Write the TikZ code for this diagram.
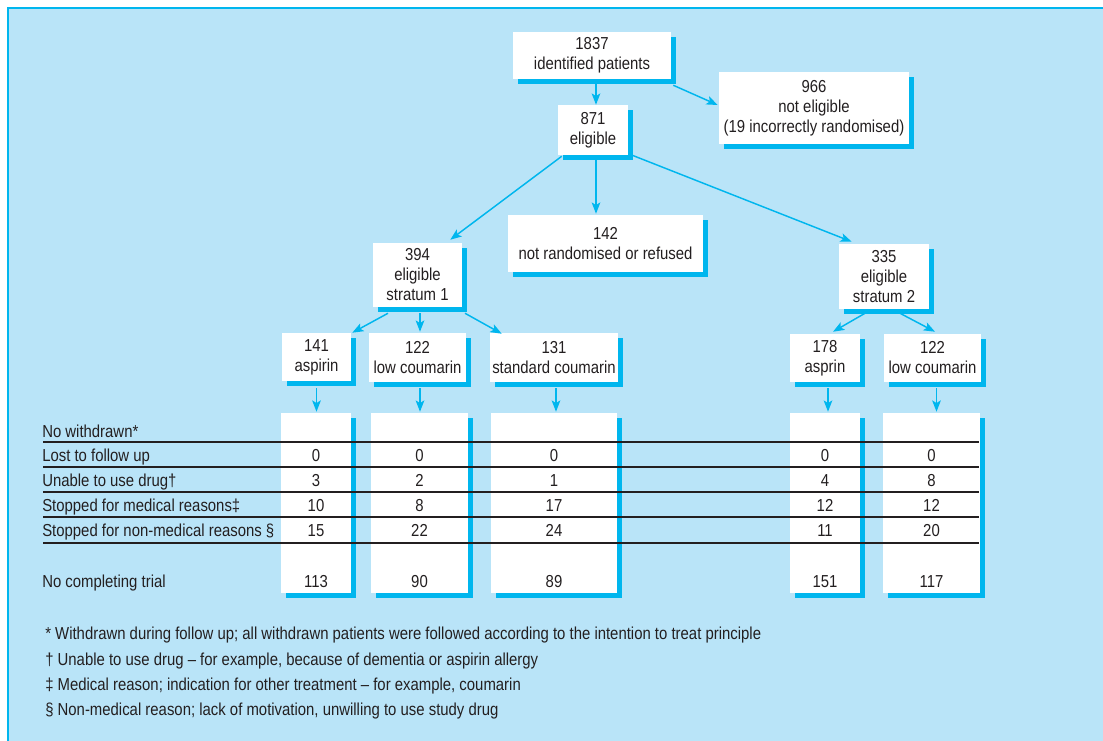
\documentclass[tikz,border=0pt]{standalone}
\usepackage{fontspec}
\setmainfont{Liberation Sans}[FakeStretch=0.86]
\usetikzlibrary{arrows.meta,calc,shadows}
\definecolor{bgblue}{HTML}{B9E4F8}
\definecolor{cy}{HTML}{00B6EE}
\definecolor{txt}{HTML}{231F20}
\newcommand\diagfont{\fontsize{13}{15}\selectfont}
\begin{document}
\begin{tikzpicture}[x=0.75pt,y=-0.75pt,
  box/.style={fill=white, inner sep=0pt, align=center, text=txt, font=\diagfont,
    general shadow={fill=cy, shadow xshift=3.75pt, shadow yshift=-3.75pt}},
  wh/.style 2 args={minimum width=#1*0.75pt, minimum height=#2*0.75pt},
  arr/.style={draw=cy, line width=1.1pt, -{Stealth[length=8.5pt,width=6.5pt,inset=2pt]}},
  lab/.style={text=txt, font=\diagfont, inner sep=0pt},
  num/.style={text=txt, font=\diagfont, inner sep=0pt, anchor=base},
  rulel/.style={draw=txt, line width=0.9pt}]
\useasboundingbox (0,0) rectangle (1103,741);
\fill[bgblue] (8,8) rectangle (1103,741);
\draw[cy, line width=1.3pt] (1103,8) -- (8,8) -- (8,741);

% flow boxes
\node[box, wh={158}{47}] (n1837) at (592,55.5) {1837\\identified patients};
\node[box, wh={190}{72}] (n966) at (814,108) {966\\not eligible\\(19 incorrectly randomised)};
\node[box, wh={70}{50}] (n871) at (593,130) {871\\eligible};
\node[box, wh={195}{57}] (n142) at (605.5,243.5) {142\\not randomised or refused};
\node[box, wh={89}{64}] (n394) at (417.5,275) {394\\eligible\\stratum 1};
\node[box, wh={90}{65}] (n335) at (884,276.5) {335\\eligible\\stratum 2};
\node[box, wh={69}{48}] (n141) at (316.5,357) {141\\aspirin};
\node[box, wh={97}{49}] (n122a) at (417.5,357.5) {122\\low coumarin};
\node[box, wh={128}{49}] (n131) at (554,357.5) {131\\standard coumarin};
\node[box, wh={70}{48}] (n178) at (825,358) {178\\asprin};
\node[box, wh={97}{48}] (n122b) at (932.5,358) {122\\low coumarin};

% result columns
\node[box, wh={70}{180}] (c1) at (316,503) {};
\node[box, wh={97}{180}] (c2) at (419.5,503) {};
\node[box, wh={126}{180}] (c3) at (554,503) {};
\node[box, wh={70}{180}] (c4) at (825,503) {};
\node[box, wh={97}{180}] (c5) at (931.5,503) {};

% arrows
\draw[arr] ($(n1837.south)+(4,5)$) -- ($(n871.north)+(3,0)$);
\draw[arr] ($(n1837.south east)+(2,6)$) -- ($(n966.west)+(-1,-3)$);
\draw[arr] ($(n871.south west)+(4,1)$) -- ($(n394.north east)+(-12,-3)$);
\draw[arr] ($(n871.south)+(3,5)$) -- ($(n142.north)+(-9.5,-1)$);
\draw[arr] ($(n871.south east)+(4,0)$) -- ($(n335.north west)+(13,-2)$);
\draw[arr] ($(n394.south)+(-29.5,6)$) -- ($(n141.north east)+(1,0)$);
\draw[arr] ($(n394.south)+(2.5,6)$) -- ($(n122a.north)+(2.5,-1)$);
\draw[arr] ($(n394.south)+(47.5,6)$) -- ($(n131.north west)+(12,1)$);
\draw[arr] ($(n335.south)+(-19,4)$) -- ($(n178.north)+(8,-2)$);
\draw[arr] ($(n335.south)+(16,4)$) -- ($(n122b.north)+(2.5,-2)$);
\draw[arr] ($(n141.south)+(0,7)$) -- ($(c1.north)+(0.5,-1)$);
\draw[arr] ($(n122a.south)+(2.5,6)$) -- ($(c2.north)+(0.5,-1)$);
\draw[arr] ($(n131.south)+(2,6)$) -- ($(c3.north)+(2,-1)$);
\draw[arr] ($(n178.south)+(3,6)$) -- ($(c4.north)+(3,-1)$);
\draw[arr] ($(n122b.south)+(4,6)$) -- ($(c5.north)+(5,-1)$);

% table rules
\foreach \yy in {442,467,492,517,543} \draw[rulel] (43,\yy) -- (979,\yy);

% row labels
\node[lab, anchor=base west] (r0) at (42,437) {No withdrawn*};
\node[lab, anchor=base west] (r1) at (42,461) {Lost to follow up};
\node[lab, anchor=base west] (r2) at (42,486) {Unable to use drug†};
\node[lab, anchor=base west] (r3) at (42,511) {Stopped for medical reasons‡};
\node[lab, anchor=base west] (r4) at (42,536) {Stopped for non-medical reasons §};
\node[lab, anchor=base west] (r5) at (42,587) {No completing trial};

% numbers
\foreach \col/\vals in {c1/{0,3,10,15,113}, c2/{0,2,8,22,90}, c3/{0,1,17,24,89}, c4/{0,4,12,11,151}, c5/{0,8,12,20,117}} {
  \foreach \v [count=\k] in \vals {
    \pgfmathsetmacro\yb{{461,486,511,536,587}[\k-1]}
    \node[num] (\col v\k) at (\col.center |- 0,\yb) {\v};
  }
}

% footnotes
\node[lab, anchor=base west] (f1) at (45,639) {*\ Withdrawn during follow up; all withdrawn patients were followed according to the intention to treat principle};
\node[lab, anchor=base west] (f2) at (45,665) {† Unable to use drug – for example, because of dementia or aspirin allergy};
\node[lab, anchor=base west] (f3) at (45,690) {‡ Medical reason; indication for other treatment – for example, coumarin};
\node[lab, anchor=base west] (f4) at (45,715) {§ Non-medical reason; lack of motivation, unwilling to use study drug};
\end{tikzpicture}
\end{document}
